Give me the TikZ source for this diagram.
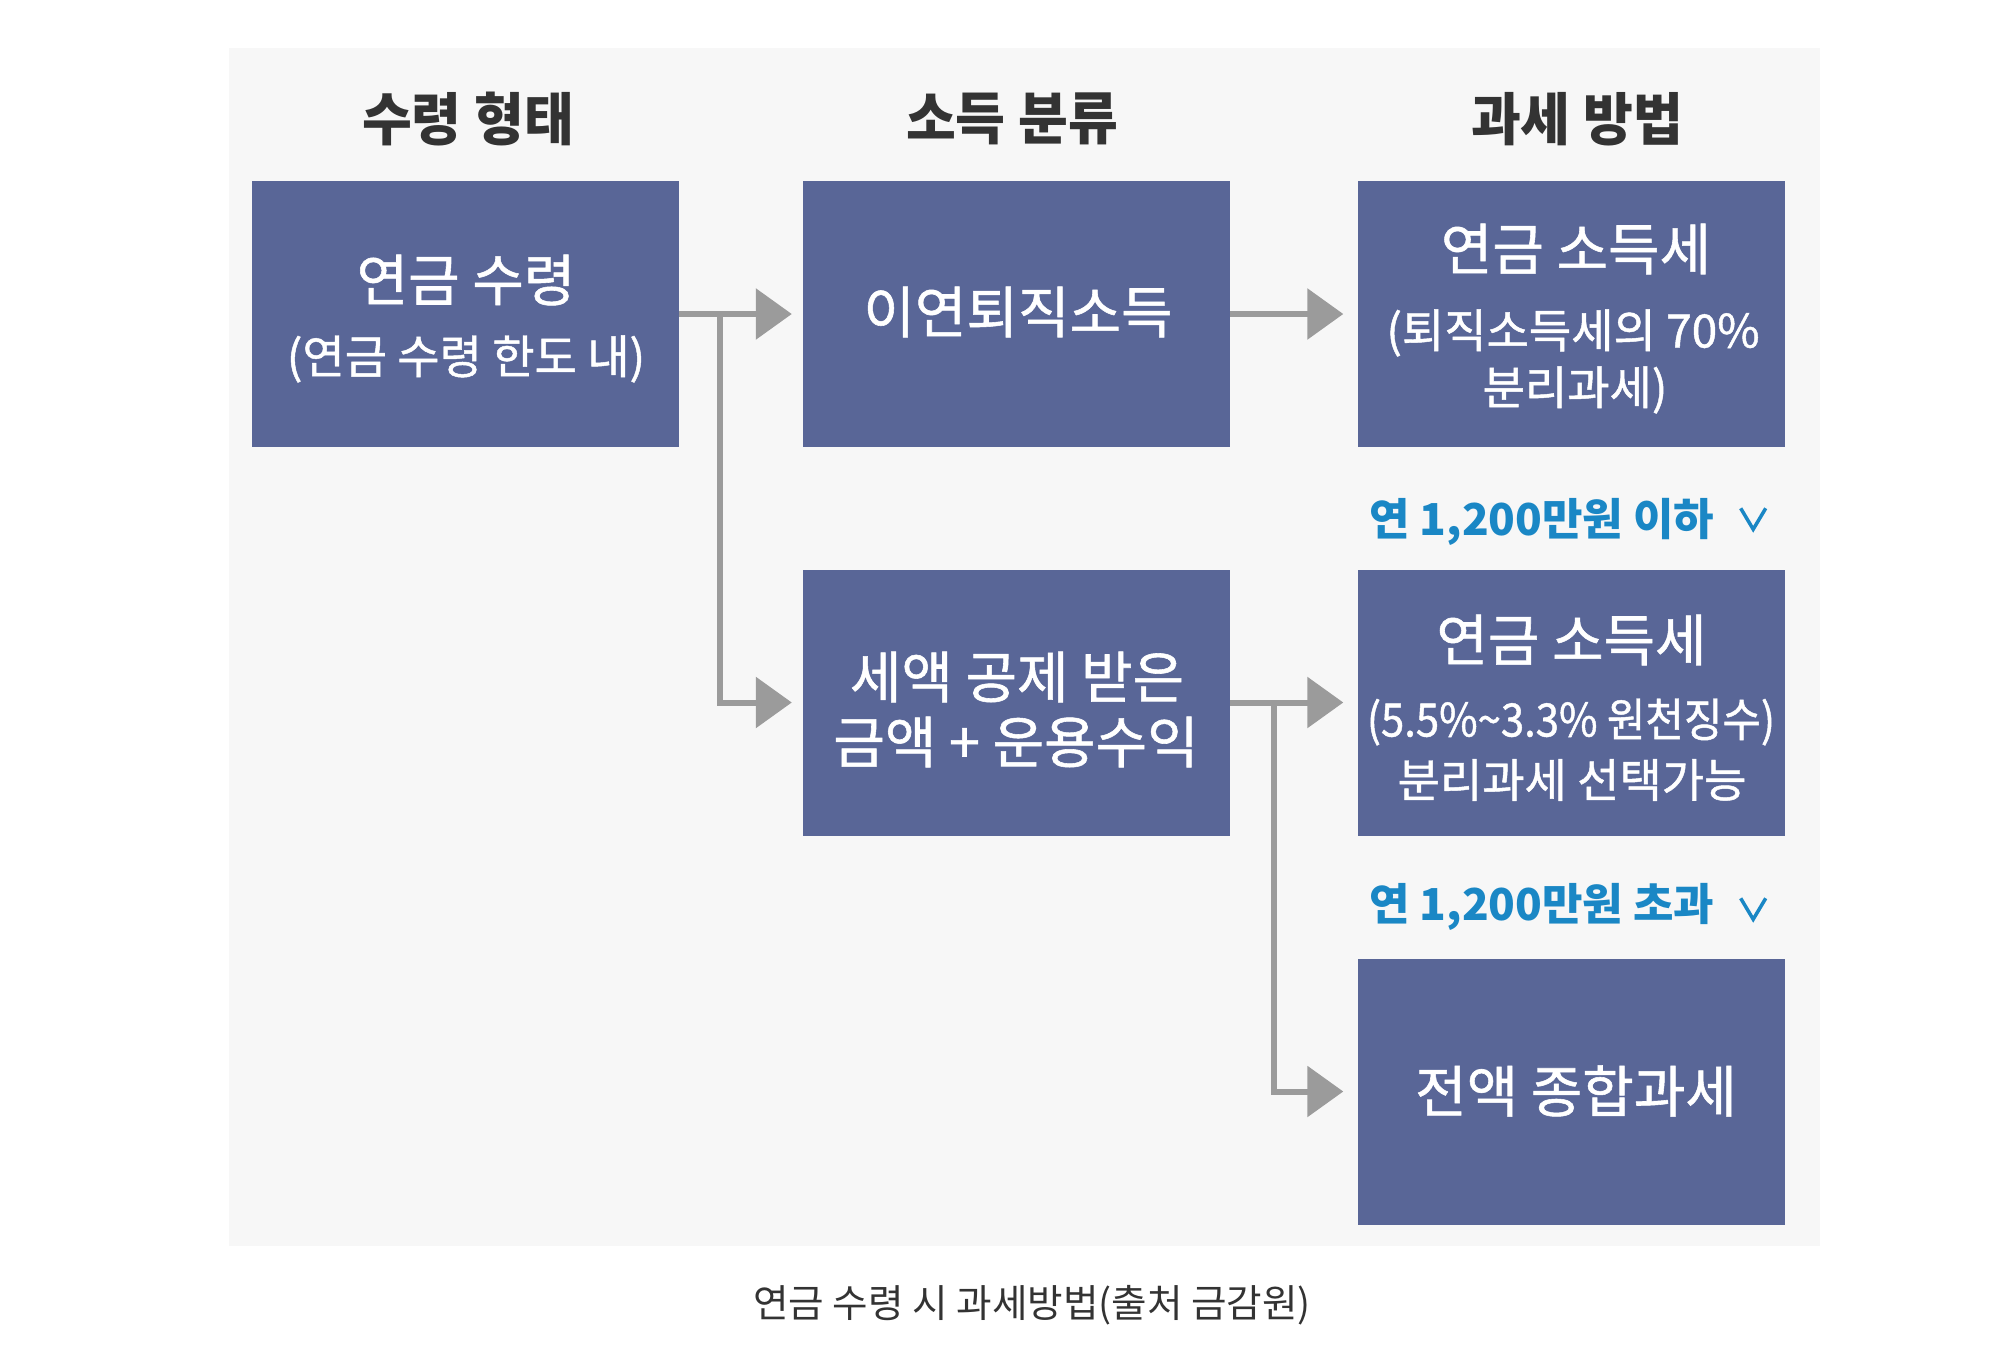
\documentclass[tikz,border=0pt]{standalone}
\usepackage{fontspec}
\usetikzlibrary{arrows.meta,calc}
\newfontfamily\krh{Noto Sans CJK KR}[FakeStretch=0.95]
\newfontfamily\kr{Noto Sans CJK KR}[FakeBold=1]
\newfontfamily\krn{Noto Sans CJK KR}[FakeStretch=0.91,FakeBold=1]
\newfontfamily\krc{Noto Sans CJK KR}
\definecolor{bgc}{HTML}{F7F7F7}
\definecolor{boxc}{HTML}{596697}
\definecolor{arrc}{HTML}{9B9B9B}
\definecolor{bluec}{HTML}{1A87C5}
\definecolor{headc}{HTML}{333333}
\definecolor{capc}{HTML}{333333}
\tikzset{
  box/.style={fill=boxc, draw=none, minimum width=427pt, minimum height=266pt, inner sep=0pt},
  head/.style={text=headc, font=\krh\bfseries\fontsize{57}{62}\selectfont, inner sep=0pt},
  big/.style={text=white, font=\kr\fontsize{56}{62}\selectfont, inner sep=0pt},
  small/.style={text=white, font=\kr\fontsize{46}{52}\selectfont, inner sep=0pt},
  smalln/.style={text=white, font=\krn\fontsize{46}{52}\selectfont, inner sep=0pt},
  cond/.style={text=bluec, font=\krc\bfseries\fontsize{44}{50}\selectfont, inner sep=0pt},
  conn/.style={draw=arrc, line width=6pt},
  arr/.style={conn, -{Triangle[length=36pt,width=50pt]}},
  chev/.style={draw=bluec, line width=3.5pt}
}
\begin{document}
\begin{tikzpicture}[x=1pt,y=-1pt]
\useasboundingbox (0,0) rectangle (2011,1355);
\fill[white] (0,0) rectangle (2011,1355);
\fill[bgc] (229,48) rectangle (1820,1246);
% headers
\node[head] (h1) at (468,119) {수령 형태};
\node[head] (h2) at (1012,119) {소득 분류};
\node[head] (h3) at (1577,119) {과세 방법};
% boxes
\node[box] (b1) at (465.5,314) {};
\node[box] (b2) at (1016.5,314) {};
\node[box] (b3) at (1571,314) {};
\node[box] (b4) at (1016.5,702.5) {};
\node[box] (b5) at (1571,702.5) {};
\node[box] (b6) at (1571,1091.5) {};
% box texts
\node[big] (t1a) at (466,280) {연금 수령};
\node[small] (t1b) at (466,359) {(연금 수령 한도 내)};
\node[big] (t2) at (1018,312) {이연퇴직소득};
\node[big] (t3a) at (1576,249) {연금 소득세};
\node[small] (t3b) at (1573,333) {(퇴직소득세의 70\%};
\node[small] (t3c) at (1575,390) {분리과세)};
\node[big] (t4a) at (1017,677) {세액 공제 받은};
\node[big] (t4b) at (1016,742) {금액 + 운용수익};
\node[big] (t5a) at (1571.5,640) {연금 소득세};
\node[smalln] (t5b) at (1571,722) {(5.5\%\textasciitilde3.3\% 원천징수)};
\node[small] (t5c) at (1572,780) {분리과세 선택가능};
\node[big] (t6) at (1576,1091) {전액 종합과세};
% condition labels
\node[cond, anchor=west] (c1) at (1369,522) {연 1,200만원 이하};
\node[cond, anchor=west] (c2) at (1369,907) {연 1,200만원 초과};
\draw[chev] ($(b5.north east)+(-44,-61)$) coordinate (v1a) -- ++(12.5,21) -- ++(12.5,-21);
\draw[chev] ($(b6.north east)+(-44,-60)$) coordinate (v2a) -- ++(12.5,21) -- ++(12.5,-21);
% connectors
\coordinate (j1) at ($(b1.east)+(41,0)$);
\coordinate (j2) at ($(b4.east)+(44,0)$);
\draw[arr] (b1.east) -- ($(b2.west)+(-11,0)$);
\draw[arr] (j1) |- ($(b4.west)+(-11,0)$);
\draw[arr] (b2.east) -- ($(b3.west)+(-14,0)$);
\draw[arr] (b4.east) -- ($(b5.west)+(-14,0)$);
\draw[arr] (j2) |- ($(b6.west)+(-14,0)$);
% caption
\node[text=capc, font=\krc\fontsize{38.6}{44}\selectfont, inner sep=0pt] (cap) at (1032,1305) {연금 수령 시 과세방법(출처 금감원)};
\end{tikzpicture}
\end{document}
